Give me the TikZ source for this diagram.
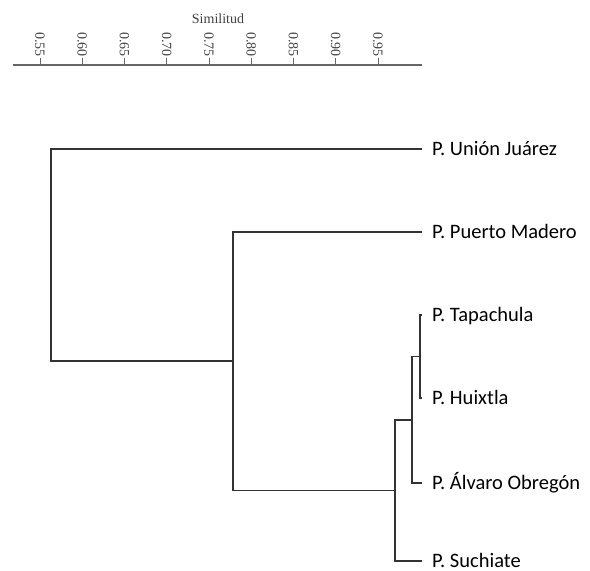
\documentclass[tikz,border=0pt]{standalone}
\usepackage{fontspec}
\setmainfont{Liberation Serif}
\newfontfamily\leaffont{Carlito}
\usepackage{tikz}
\usetikzlibrary{positioning}

\tikzset{
  branch/.style={line width=1.8pt,draw=black!80},
  leaf/.style={inner sep=0pt,text height=13pt,text depth=1pt,font=\leaffont\fontsize{20.5}{22}\selectfont},
  ticklab/.style={anchor=east,rotate=-90,inner sep=0.5pt,font=\fontsize{14}{14}\selectfont,text=black!75}
}

\begin{document}
\begin{tikzpicture}[x=1pt,y=-1pt]
  \useasboundingbox (0,0) rectangle (590,571);
  % similarity scale
  \node[font=\fontsize{14}{14}\selectfont,text=black!75] (sim) at (218,19) {Similitud};
  \draw[line width=1.3pt,black!60] (13,65) -- (422,65);
  \foreach \v [count=\i from 0] in {0.55,0.60,0.65,0.70,0.75,0.80,0.85,0.90,0.95}
    \draw[line width=1pt,black!60] (40+42.25*\i,57.5) node[ticklab] (t\i) {\v} -- (40+42.25*\i,65);

  % leaf ends
  \coordinate (l1) at (422,149);
  \coordinate (l2) at (422,232);
  \coordinate (l3) at (422,315);
  \coordinate (l4) at (422,398);
  \coordinate (l5) at (422,483);
  \coordinate (l6) at (422,561);
  \node[leaf,right=10pt of l1] (uj) {P. Unión Juárez};
  \node[leaf,right=10pt of l2] (pm) {P. Puerto Madero};
  \node[leaf,right=10pt of l3] (tp) {P. Tapachula};
  \node[leaf,right=10pt of l4] (hx) {P. Huixtla};
  \node[leaf,right=10pt of l5] (ao) {P. Álvaro Obregón};
  \node[leaf,right=10pt of l6] (su) {P. Suchiate};

  % joins
  \coordinate (n1) at (420,356.5);
  \coordinate (n2) at (412,420);
  \coordinate (n3) at (395,490.5);
  \coordinate (n4) at (233,361);
  \coordinate (n5) at (51,255);
  \draw[branch] (l3) -| (n1) |- (l4);
  \draw[branch] (n1) -| (n2) |- (l5);
  \draw[branch] (n2) -| (n3) |- (l6);
  \draw[branch] (l2) -| (n4) |- (n3);
  \draw[branch] (l1) -| (n5) |- (n4);
\end{tikzpicture}
\end{document}
